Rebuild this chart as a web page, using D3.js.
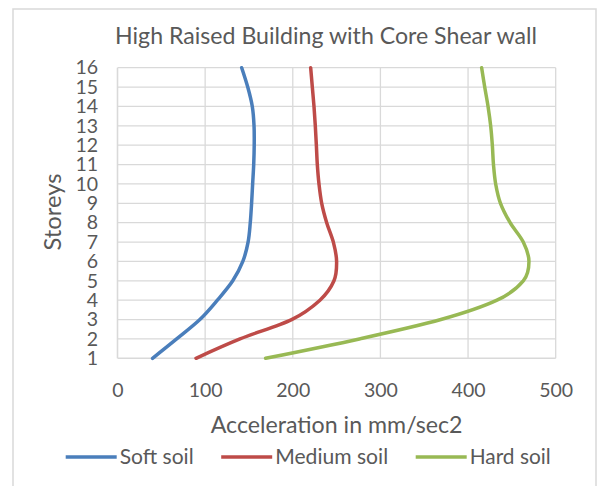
<!DOCTYPE html>
<html>
<head>
<meta charset="utf-8">
<script src="https://cdn.jsdelivr.net/npm/d3@7/dist/d3.min.js"></script>
<style>
  html, body { margin: 0; padding: 0; background: #fff; }
  svg { display: block; font-family: Lato, "Open Sans", sans-serif; }
</style>
</head>
<body>
<svg id="chart" width="600" height="486"></svg>
<script>
// storeys on the vertical axis
const storeys = [1, 2, 3, 4, 5, 6, 7, 8, 9, 10, 11, 12, 13, 14, 15, 16];

// acceleration (mm/sec2) per storey
const softSoil   = [40, 67.5, 94, 114, 131.5, 143, 149, 151.5, 153, 154.2, 155.4, 156, 155.8, 153.8, 148.6, 141.7];
const mediumSoil = [89.6, 139.8, 198.7, 231, 247, 250, 246.3, 238.7, 233, 229.9, 228, 226.9, 225.7, 224.2, 222.3, 220.4];
const hardSoil   = [169, 276, 369, 433, 463, 469.5, 463, 448, 437, 431.5, 429, 427.7, 425.8, 422.8, 419, 415.5];

const seriesNames = ["Soft soil", "Medium soil", "Hard soil"];
const seriesColors = ["#4a7ebb", "#be4b48", "#98b954"];
const xTicks = [0, 100, 200, 300, 400, 500];

const svg = d3.select("#chart");
const textColor = "#595959";
const gridColor = "#d9d9d9";

// chart frame (bottom edge falls outside the picture)
svg.append("rect")
  .attr("x", 13).attr("y", 9)
  .attr("width", 583).attr("height", 490)
  .attr("fill", "#fff")
  .attr("stroke", gridColor).attr("stroke-width", 1.5);

const x = d3.scaleLinear().domain([0, 500]).range([117.5, 555.7]);
const y = d3.scaleLinear().domain([1, 16]).range([358.3, 67.7]);

// ── Gridlines ──
svg.append("g")
  .selectAll("line")
  .data(xTicks)
  .join("line")
    .attr("x1", d => x(d)).attr("x2", d => x(d))
    .attr("y1", y(16)).attr("y2", y(1))
    .attr("stroke", gridColor).attr("stroke-width", d => d === 0 ? 1.6 : 1.3);

svg.append("g")
  .selectAll("line")
  .data(storeys)
  .join("line")
    .attr("x1", x(0)).attr("x2", x(500))
    .attr("y1", d => y(d)).attr("y2", d => y(d))
    .attr("stroke", gridColor).attr("stroke-width", d => d === 1 ? 1.6 : 1.3);

// ── Axes (labels only) ──
const yAxis = svg.append("g")
  .attr("transform", `translate(${x(0)},0)`)
  .call(d3.axisLeft(y).tickValues(storeys).tickFormat(d3.format("d")).tickSize(0).tickPadding(19.5));

const xAxis = svg.append("g")
  .attr("transform", `translate(0,${y(1)})`)
  .call(d3.axisBottom(x).tickValues(xTicks).tickFormat(d3.format("d")).tickSize(0).tickPadding(25));

[yAxis, xAxis].forEach(ax => {
  ax.select(".domain").remove();
  ax.selectAll("text")
    .attr("fill", textColor)
    .attr("font-size", 19.5)
    .attr("font-family", "Lato, sans-serif");
});

// ── Lines ──
const line = d3.line()
  .x(d => x(d[1]))
  .y(d => y(d[0]))
  .curve(d3.curveCatmullRom.alpha(0));

const allSeries = [softSoil, mediumSoil, hardSoil];

svg.append("g")
  .selectAll("path")
  .data(allSeries)
  .join("path")
    .attr("d", vals => line(storeys.map((s, i) => [s, vals[i]])))
    .attr("fill", "none")
    .attr("stroke", (d, i) => seriesColors[i])
    .attr("stroke-width", 3.5)
    .attr("stroke-linejoin", "round")
    .attr("stroke-linecap", "round");

// fit a text element to a target width by scaling its font-size
function fitWidth(sel, width) {
  const w = sel.node().getComputedTextLength();
  const fs = parseFloat(sel.attr("font-size"));
  sel.attr("font-size", fs * width / w);
}

// ── Titles ──
const title = svg.append("text")
  .attr("x", 326).attr("y", 44)
  .attr("text-anchor", "middle")
  .attr("fill", textColor)
  .attr("font-size", 22)
  .text("High Raised Building with Core Shear wall");
fitWidth(title, 422);

const xTitle = svg.append("text")
  .attr("x", 336.6).attr("y", 433)
  .attr("text-anchor", "middle")
  .attr("fill", textColor)
  .attr("font-size", 21)
  .text("Acceleration in mm/sec2");
fitWidth(xTitle, 252);

const yTitle = svg.append("text")
  .attr("transform", "translate(61,212) rotate(-90)")
  .attr("text-anchor", "middle")
  .attr("fill", textColor)
  .attr("font-size", 21)
  .text("Storeys");
fitWidth(yTitle, 77);

// ── Legend ──
const legendTextW = [74, 113, 81];
const legend = svg.append("g").attr("transform", "translate(65.7,457)");
let lx = 0;
seriesNames.forEach((name, i) => {
  const g = legend.append("g").attr("transform", `translate(${lx},0)`);
  g.append("line")
    .attr("x1", 0).attr("x2", 51)
    .attr("y1", 0).attr("y2", 0)
    .attr("stroke", seriesColors[i]).attr("stroke-width", 3.5);
  const t = g.append("text")
    .attr("x", 54).attr("y", 0).attr("dy", "0.35em")
    .attr("fill", textColor)
    .attr("font-size", 20)
    .text(name);
  fitWidth(t, legendTextW[i]);
  lx += 54 + legendTextW[i] + 27.5;
});
</script>
</body>
</html>
